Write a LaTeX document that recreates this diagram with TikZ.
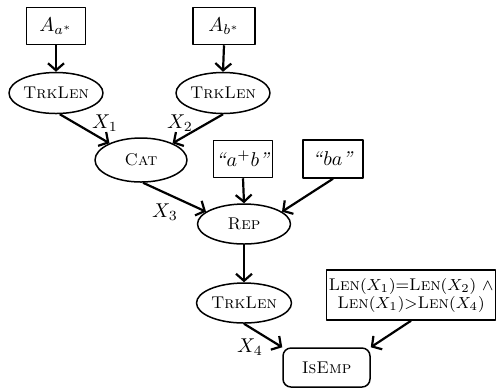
\documentclass[tikz,border=0pt]{standalone}
\usetikzlibrary{arrows.meta,shapes.geometric}

\begin{document}
\begin{tikzpicture}[
    x=0.5pt, y=-0.5pt,
    line join=round,
    font=\fontsize{8.5}{9}\selectfont,
    % Node and edge styles
    term/.style={draw, line width=0.75pt, rectangle, inner sep=1pt,
                 font=\fontsize{10}{11}\selectfont,
                 minimum width=29.5pt, minimum height=18.5pt},
    oper/.style={draw, line width=0.75pt, ellipse, inner sep=0pt,
                 font=\fontsize{8.5}{9}\selectfont,
                 minimum width=47pt, minimum height=20.5pt},
    flow/.style={line width=1.1pt, -{Straight Barb[length=3.5pt,width=8pt]}},
    lbl/.style={inner sep=0pt, font=\fontsize{10}{11}\selectfont}
]

% ---------------------------------------------------------
% STRICT BOUNDING BOX (496 x 388)
% ---------------------------------------------------------
\path [use as bounding box] (0,0) rectangle (496,388);

% Input automata
\node[term] (aa) at (56,26)  {$A_{a^*}$};
\node[term, minimum width=31pt] (ab) at (224,26) {$A_{b^*}$};

% Track lengths
\node[oper] (t1) at (56,93)  {\textsc{TrkLen}};
\node[oper] (t2) at (223,93) {\textsc{TrkLen}};

% Concatenation
\node[oper, minimum width=46pt, minimum height=22pt] (cat) at (141,160) {\textsc{Cat}};

% Replace arguments
\node[term] (apb) at (243,159) {\textit{``}$a^+b$\textit{''}};
\node[term, minimum width=30pt, minimum height=19pt] (qba) at (333,159) {\textit{``}$ba$\textit{''}};

% Replace
\node[oper, minimum width=46.5pt, minimum height=20pt] (rep) at (244,224) {\textsc{Rep}};

% Final track length
\node[oper, minimum width=47.5pt, minimum height=20pt] (t3) at (244,303) {\textsc{TrkLen}};

% Condition and emptiness check
\node[term, align=center, font=\fontsize{8.5}{9}\selectfont,
      minimum width=84pt, minimum height=25pt] (cond) at (411,295)
    {\textsc{Len}$(X_1)$=\textsc{Len}$(X_2)$ $\wedge$\\
     \textsc{Len}$(X_1)$$>$\textsc{Len}$(X_4)$};
\node[draw, line width=0.75pt, rounded corners=4pt, minimum width=43.5pt,
      font=\fontsize{8.5}{9}\selectfont,
      minimum height=19.5pt] (isemp) at (326.5,367.5) {\textsc{IsEmp}};

% ---------------------------------------------------------
% EDGES
% ---------------------------------------------------------
\draw[flow] (aa.south) -- (t1.north);
\draw[flow] (ab.south) -- (t2.north);
\draw[flow] (t1.-80) -- (cat.152);
\draw[flow] (t2.south) -- (cat.28);
\draw[flow] (cat.-85) -- (rep.162);
\draw[flow] (apb.south) -- (rep.north);
\draw[flow] (qba.south) -- (rep.18);
\draw[flow] (rep.south) -- (t3.north);
\draw[flow] (t3.south) -- (isemp.north west);
\draw[flow] (cond.south) -- (isemp.north east);

% Edge labels
\node[lbl] (x1) at (105,123) {$X_1$};
\node[lbl] (x2) at (180,123) {$X_2$};
\node[lbl] (x3) at (165,212) {$X_3$};
\node[lbl] (x4) at (250,347) {$X_4$};

\end{tikzpicture}
\end{document}
